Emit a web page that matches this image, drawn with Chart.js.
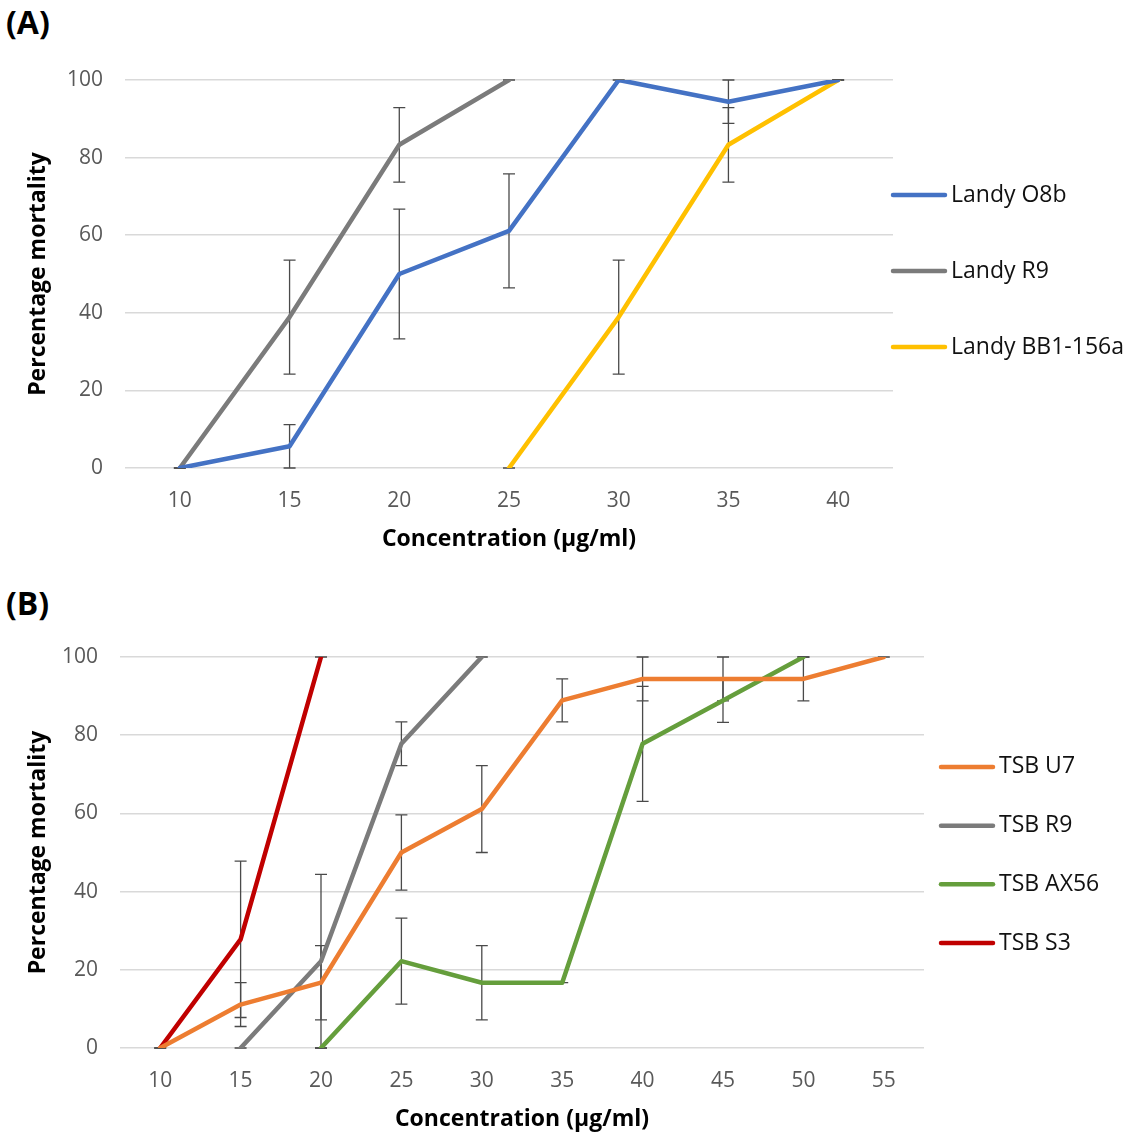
<!DOCTYPE html>
<html>
<head>
<meta charset="utf-8">
<script src="https://cdn.jsdelivr.net/npm/chart.js@4/dist/chart.umd.min.js"></script>
<style>
  html, body { margin: 0; padding: 0; background: #fff; }
  body { width: 1134px; height: 1135px; position: relative; overflow: hidden; font-family: "Open Sans", sans-serif; }
  .panel { position: absolute; left: 0; width: 1134px; }
  .tag { position: absolute; left: 6px; font-weight: bold; font-size: 32px; color: #000; font-family: "Open Sans", sans-serif; line-height: 1; }
</style>
</head>
<body>
<div class="tag" style="top:6px;">(A)</div>
<div class="tag" style="top:587px;">(B)</div>
<div class="panel" style="top:0; height:565px;"><canvas id="chartA"></canvas></div>
<div class="panel" style="top:580px; height:555px;"><canvas id="chartB"></canvas></div>
<script>
// ---------- Panel A data ----------
const concA = ['10', '15', '20', '25', '30', '35', '40'];
const landyO8b = [0, 5.6, 50, 61.1, 100, 94.4, 100];
const landyO8bErr = [0, 5.6, 16.7, 14.7, 0, 5.6, 0];
const landyR9 = [0, 38.9, 83.3, 100, null, null, null];
const landyR9Err = [0, 14.7, 9.6, 0, null, null, null];
const landyBB1 = [null, null, null, 0, 38.9, 83.3, 100];
const landyBB1Err = [null, null, null, 0, 14.7, 9.6, 0];

// ---------- Panel B data ----------
const concB = ['10', '15', '20', '25', '30', '35', '40', '45', '50', '55'];
const tsbU7 = [0, 11.1, 16.7, 50, 61.1, 88.9, 94.4, 94.4, 94.4, 100];
const tsbU7Err = [0, 5.6, 9.5, 9.6, 11.1, 5.5, 5.6, 5.6, 5.6, 0];
const tsbR9 = [null, 0, 22.2, 77.8, 100, null, null, null, null, null];
const tsbR9Err = [null, 0, 22.2, 5.6, 0, null, null, null, null, null];
const tsbAX56 = [null, null, 0, 22.2, 16.7, 16.7, 77.8, 88.9, 100, null];
const tsbAX56Err = [null, null, 0, 11.0, 9.5, 0, 14.7, 5.6, 0, null];
const tsbS3 = [0, 27.8, 100, null, null, null, null, null, null, null];
const tsbS3Err = [0, 20, 0, null, null, null, null, null, null, null];

const yTicks = [0, 20, 40, 60, 80, 100];

const FONT = '"Open Sans", sans-serif';

const errorBarPlugin = {
  id: 'errorBars',
  beforeDatasetsDraw(chart) {
    const ctx = chart.ctx;
    const xs = chart.scales.x, ys = chart.scales.y;
    ctx.save();
    ctx.strokeStyle = '#4a4a4a';
    ctx.lineWidth = 1.3;
    chart.data.datasets.forEach(ds => {
      (ds.errors || []).forEach((e, i) => {
        const v = ds.data[i];
        if (e === null || e === undefined || v === null) return;
        const x = xs.getPixelForValue(i);
        const yTop = ys.getPixelForValue(Math.min(100, v + e));
        const yBot = ys.getPixelForValue(Math.max(0, v - e));
        const cap = 6;
        ctx.beginPath();
        ctx.moveTo(x, yTop); ctx.lineTo(x, yBot);
        ctx.moveTo(x - cap, yTop); ctx.lineTo(x + cap, yTop);
        ctx.moveTo(x - cap, yBot); ctx.lineTo(x + cap, yBot);
        ctx.stroke();
      });
    });
    ctx.restore();
  }
};

const sideLegendPlugin = {
  id: 'sideLegend',
  afterDraw(chart, args, opts) {
    const ctx = chart.ctx;
    const ca = chart.chartArea;
    const n = chart.data.datasets.length;
    const cy = (ca.top + ca.bottom) / 2 + opts.shift;
    ctx.save();
    ctx.font = '23px ' + FONT;
    ctx.textBaseline = 'middle';
    ctx.fillStyle = '#111';
    chart.data.datasets.forEach((ds, i) => {
      const y = cy + (i - (n - 1) / 2) * opts.spacing;
      ctx.strokeStyle = ds.borderColor;
      ctx.lineWidth = 4.5;
      ctx.lineCap = 'round';
      ctx.beginPath();
      ctx.moveTo(opts.x0, y);
      ctx.lineTo(opts.x0 + opts.len, y);
      ctx.stroke();
      ctx.fillText(ds.label, opts.x0 + opts.len + 6, y);
    });
    ctx.restore();
  }
};

function lineDs(label, data, errors, color) {
  return {
    label, data, errors,
    borderColor: color, backgroundColor: color,
    borderWidth: 4.5, pointRadius: 0, tension: 0,
    borderJoinStyle: 'round', borderCapStyle: 'round',
    spanGaps: false
  };
}

function makeOptions(yWidth, padRight, padTop, padBottom, legend) {
  return {
    responsive: true,
    maintainAspectRatio: false,
    animation: false,
    layout: { padding: { left: 0, right: padRight, top: padTop, bottom: padBottom } },
    plugins: { legend: { display: false }, tooltip: { enabled: false }, sideLegend: legend },
    scales: {
      x: {
        offset: true,
        grid: { display: false, drawTicks: false },
        border: { display: false },
        ticks: { color: '#595959', font: { family: FONT, size: 21 }, padding: 20 },
        title: { display: true, text: 'Concentration (µg/ml)', color: '#000', font: { family: FONT, size: 23, weight: 'bold' }, padding: { top: 6, bottom: 0 } },
        afterFit(s) { s.height = 85; }
      },
      y: {
        min: 0, max: 100,
        afterBuildTicks(s) { s.ticks = yTicks.map(v => ({ value: v })); },
        grid: { color: '#d9d9d9', lineWidth: 1.5, drawTicks: false },
        border: { display: false },
        ticks: { color: '#595959', font: { family: FONT, size: 21 }, padding: 22 },
        title: { display: true, text: 'Percentage mortality', color: '#000', font: { family: FONT, size: 23, weight: 'bold' }, padding: { top: 25, bottom: 0 } },
        afterFit(s) { s.width = yWidth; }
      }
    }
  };
}

new Chart(document.getElementById('chartA'), {
  type: 'line',
  data: {
    labels: concA,
    datasets: [
      lineDs('Landy O8b', landyO8b, landyO8bErr, '#4472C4'),
      lineDs('Landy R9', landyR9, landyR9Err, '#7B7B7B'),
      lineDs('Landy BB1-156a', landyBB1, landyBB1Err, '#FFC000')
    ]
  },
  options: makeOptions(125, 241, 80, 12, { x0: 893, len: 52, spacing: 76, shift: -3 }),
  plugins: [errorBarPlugin, sideLegendPlugin]
});

new Chart(document.getElementById('chartB'), {
  type: 'line',
  data: {
    labels: concB,
    datasets: [
      lineDs('TSB U7', tsbU7, tsbU7Err, '#ED7D31'),
      lineDs('TSB R9', tsbR9, tsbR9Err, '#7B7B7B'),
      lineDs('TSB AX56', tsbAX56, tsbAX56Err, '#659E3C'),
      lineDs('TSB S3', tsbS3, tsbS3Err, '#C00000')
    ]
  },
  options: makeOptions(120, 210, 77, 2, { x0: 941, len: 52, spacing: 58.7, shift: 2.5 }),
  plugins: [errorBarPlugin, sideLegendPlugin]
});
</script>
</body>
</html>
